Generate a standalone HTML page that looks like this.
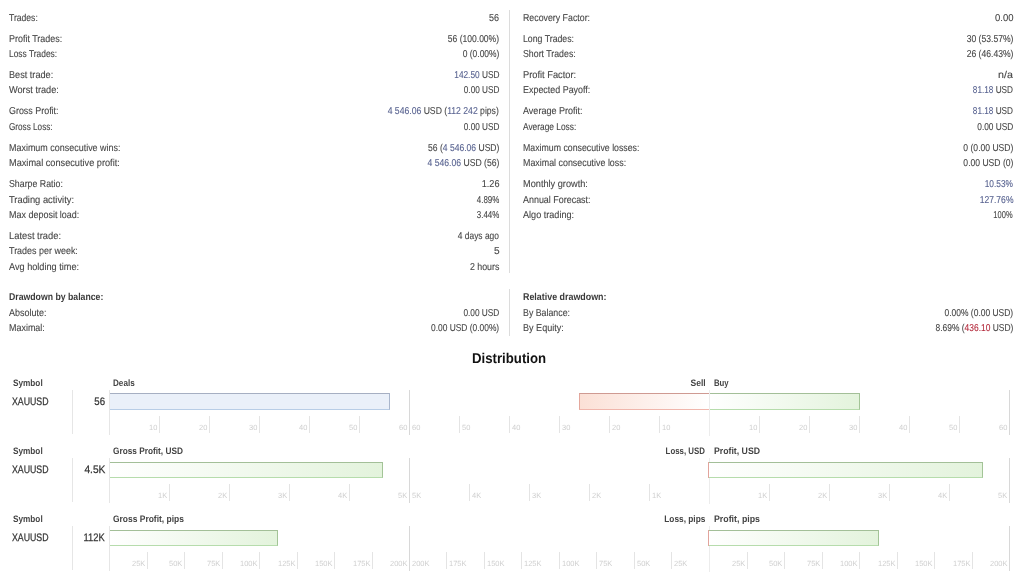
<!DOCTYPE html>
<html><head><meta charset="utf-8"><style>
*{margin:0;padding:0;box-sizing:border-box}
html,body{width:1024px;height:586px;overflow:hidden;background:#fff}
body{position:relative;font-family:"Liberation Sans",sans-serif;-webkit-font-smoothing:antialiased;text-rendering:geometricPrecision}
.a{position:absolute;white-space:nowrap;line-height:1;will-change:transform}
.a>span{display:inline-block}
.t{font-size:10.0px;color:#444;-webkit-text-stroke-width:0.1px}
.tb{font-size:10.0px;font-weight:bold;color:#3a3a3a}
.h2{font-size:14.2px;font-weight:bold;color:#111}
.th{font-size:9.4px;font-weight:bold;color:#444}
.tx{font-size:10.9px;color:#333;-webkit-text-stroke-width:0.25px}
.tk{font-size:7.5px;color:#cfcfcf}
.b{color:#56618f}
.r{color:#b3283a}
.vl{position:absolute;width:1px}
.bar{position:absolute;border-style:solid;border-width:1px 1px 1px 0}
.blue{border-color:#a6afc2 #a9b6cc #b8cde6 #a9b6cc;background:#eaf0f9}
.red{border-width:1px 0 1px 1px;border-color:#cf9a92 #cf9a92 #f0b6ac #e4a79c;background:linear-gradient(to right,#fbe0d6,#fff)}
.green{border-color:#a3bf98 #a3c497 #b6dcac #a3c497;background:linear-gradient(to right,#fff,#e3f3dc)}
</style></head>
<body>
<div class="vl" style="left:509px;top:10px;height:263px;background:#dcdcdc"></div>
<div class="vl" style="left:509px;top:289px;height:47px;background:#dcdcdc"></div>
<div class="vl" style="left:72px;top:390px;height:44px;background:#e6e6e6"></div>
<div class="vl" style="left:109px;top:390px;height:45px;background:#e6e6e6"></div>
<div class="vl" style="left:409px;top:390px;height:45px;background:#d8d8d8"></div>
<div class="vl" style="left:1009px;top:390px;height:45px;background:#d8d8d8"></div>
<div class="vl" style="left:709px;top:390px;height:46px;background:#ececec"></div>
<div class="vl" style="left:159px;top:416px;height:17px;background:#e4e4e4"></div>
<div class="a tk" style="right:866.50px;top:424.21px">10</div>
<div class="vl" style="left:759px;top:416px;height:17px;background:#e4e4e4"></div>
<div class="vl" style="left:659px;top:416px;height:17px;background:#e4e4e4"></div>
<div class="a tk" style="right:266.50px;top:424.21px">10</div>
<div class="a tk" style="left:661.50px;top:424.21px">10</div>
<div class="vl" style="left:209px;top:416px;height:17px;background:#e4e4e4"></div>
<div class="a tk" style="right:816.50px;top:424.21px">20</div>
<div class="vl" style="left:809px;top:416px;height:17px;background:#e4e4e4"></div>
<div class="vl" style="left:609px;top:416px;height:17px;background:#e4e4e4"></div>
<div class="a tk" style="right:216.50px;top:424.21px">20</div>
<div class="a tk" style="left:611.50px;top:424.21px">20</div>
<div class="vl" style="left:259px;top:416px;height:17px;background:#e4e4e4"></div>
<div class="a tk" style="right:766.50px;top:424.21px">30</div>
<div class="vl" style="left:859px;top:416px;height:17px;background:#e4e4e4"></div>
<div class="vl" style="left:559px;top:416px;height:17px;background:#e4e4e4"></div>
<div class="a tk" style="right:166.50px;top:424.21px">30</div>
<div class="a tk" style="left:561.50px;top:424.21px">30</div>
<div class="vl" style="left:309px;top:416px;height:17px;background:#e4e4e4"></div>
<div class="a tk" style="right:716.50px;top:424.21px">40</div>
<div class="vl" style="left:909px;top:416px;height:17px;background:#e4e4e4"></div>
<div class="vl" style="left:509px;top:416px;height:17px;background:#e4e4e4"></div>
<div class="a tk" style="right:116.50px;top:424.21px">40</div>
<div class="a tk" style="left:511.50px;top:424.21px">40</div>
<div class="vl" style="left:359px;top:416px;height:17px;background:#e4e4e4"></div>
<div class="a tk" style="right:666.50px;top:424.21px">50</div>
<div class="vl" style="left:959px;top:416px;height:17px;background:#e4e4e4"></div>
<div class="vl" style="left:459px;top:416px;height:17px;background:#e4e4e4"></div>
<div class="a tk" style="right:66.50px;top:424.21px">50</div>
<div class="a tk" style="left:461.50px;top:424.21px">50</div>
<div class="a tk" style="right:616.50px;top:424.21px">60</div>
<div class="a tk" style="right:16.50px;top:424.21px">60</div>
<div class="a tk" style="left:411.50px;top:424.21px">60</div>
<div class="bar blue" style="left:110px;top:393px;width:280px;height:17px"></div>
<div class="bar red" style="left:579px;top:393px;width:130px;height:17px"></div>
<div class="bar green" style="left:710px;top:393px;width:150px;height:17px"></div>
<div class="vl" style="left:72px;top:458px;height:44px;background:#e6e6e6"></div>
<div class="vl" style="left:109px;top:458px;height:45px;background:#e6e6e6"></div>
<div class="vl" style="left:409px;top:458px;height:45px;background:#d8d8d8"></div>
<div class="vl" style="left:1009px;top:458px;height:45px;background:#d8d8d8"></div>
<div class="vl" style="left:709px;top:458px;height:46px;background:#ececec"></div>
<div class="vl" style="left:169px;top:484px;height:17px;background:#e4e4e4"></div>
<div class="a tk" style="right:856.50px;top:492.21px">1K</div>
<div class="vl" style="left:769px;top:484px;height:17px;background:#e4e4e4"></div>
<div class="vl" style="left:649px;top:484px;height:17px;background:#e4e4e4"></div>
<div class="a tk" style="right:256.50px;top:492.21px">1K</div>
<div class="a tk" style="left:651.50px;top:492.21px">1K</div>
<div class="vl" style="left:229px;top:484px;height:17px;background:#e4e4e4"></div>
<div class="a tk" style="right:796.50px;top:492.21px">2K</div>
<div class="vl" style="left:829px;top:484px;height:17px;background:#e4e4e4"></div>
<div class="vl" style="left:589px;top:484px;height:17px;background:#e4e4e4"></div>
<div class="a tk" style="right:196.50px;top:492.21px">2K</div>
<div class="a tk" style="left:591.50px;top:492.21px">2K</div>
<div class="vl" style="left:289px;top:484px;height:17px;background:#e4e4e4"></div>
<div class="a tk" style="right:736.50px;top:492.21px">3K</div>
<div class="vl" style="left:889px;top:484px;height:17px;background:#e4e4e4"></div>
<div class="vl" style="left:529px;top:484px;height:17px;background:#e4e4e4"></div>
<div class="a tk" style="right:136.50px;top:492.21px">3K</div>
<div class="a tk" style="left:531.50px;top:492.21px">3K</div>
<div class="vl" style="left:349px;top:484px;height:17px;background:#e4e4e4"></div>
<div class="a tk" style="right:676.50px;top:492.21px">4K</div>
<div class="vl" style="left:949px;top:484px;height:17px;background:#e4e4e4"></div>
<div class="vl" style="left:469px;top:484px;height:17px;background:#e4e4e4"></div>
<div class="a tk" style="right:76.50px;top:492.21px">4K</div>
<div class="a tk" style="left:471.50px;top:492.21px">4K</div>
<div class="a tk" style="right:616.50px;top:492.21px">5K</div>
<div class="a tk" style="right:16.50px;top:492.21px">5K</div>
<div class="a tk" style="left:411.50px;top:492.21px">5K</div>
<div class="bar green" style="left:110px;top:462px;width:273px;height:16px"></div>
<div class="bar green" style="left:709px;top:462px;width:274px;height:16px"></div>
<div class="vl" style="left:708px;top:462px;height:16px;background:#e2a49c"></div>
<div class="vl" style="left:72px;top:526px;height:44px;background:#e6e6e6"></div>
<div class="vl" style="left:109px;top:526px;height:45px;background:#e6e6e6"></div>
<div class="vl" style="left:409px;top:526px;height:45px;background:#d8d8d8"></div>
<div class="vl" style="left:1009px;top:526px;height:45px;background:#d8d8d8"></div>
<div class="vl" style="left:709px;top:526px;height:46px;background:#ececec"></div>
<div class="vl" style="left:147px;top:552px;height:17px;background:#e4e4e4"></div>
<div class="a tk" style="right:878.50px;top:560.21px">25K</div>
<div class="vl" style="left:747px;top:552px;height:17px;background:#e4e4e4"></div>
<div class="vl" style="left:671px;top:552px;height:17px;background:#e4e4e4"></div>
<div class="a tk" style="right:278.50px;top:560.21px">25K</div>
<div class="a tk" style="left:673.50px;top:560.21px">25K</div>
<div class="vl" style="left:184px;top:552px;height:17px;background:#e4e4e4"></div>
<div class="a tk" style="right:841.50px;top:560.21px">50K</div>
<div class="vl" style="left:784px;top:552px;height:17px;background:#e4e4e4"></div>
<div class="vl" style="left:634px;top:552px;height:17px;background:#e4e4e4"></div>
<div class="a tk" style="right:241.50px;top:560.21px">50K</div>
<div class="a tk" style="left:636.50px;top:560.21px">50K</div>
<div class="vl" style="left:222px;top:552px;height:17px;background:#e4e4e4"></div>
<div class="a tk" style="right:803.50px;top:560.21px">75K</div>
<div class="vl" style="left:822px;top:552px;height:17px;background:#e4e4e4"></div>
<div class="vl" style="left:596px;top:552px;height:17px;background:#e4e4e4"></div>
<div class="a tk" style="right:203.50px;top:560.21px">75K</div>
<div class="a tk" style="left:598.50px;top:560.21px">75K</div>
<div class="vl" style="left:259px;top:552px;height:17px;background:#e4e4e4"></div>
<div class="a tk" style="right:766.50px;top:560.21px">100K</div>
<div class="vl" style="left:859px;top:552px;height:17px;background:#e4e4e4"></div>
<div class="vl" style="left:559px;top:552px;height:17px;background:#e4e4e4"></div>
<div class="a tk" style="right:166.50px;top:560.21px">100K</div>
<div class="a tk" style="left:561.50px;top:560.21px">100K</div>
<div class="vl" style="left:297px;top:552px;height:17px;background:#e4e4e4"></div>
<div class="a tk" style="right:728.50px;top:560.21px">125K</div>
<div class="vl" style="left:897px;top:552px;height:17px;background:#e4e4e4"></div>
<div class="vl" style="left:521px;top:552px;height:17px;background:#e4e4e4"></div>
<div class="a tk" style="right:128.50px;top:560.21px">125K</div>
<div class="a tk" style="left:523.50px;top:560.21px">125K</div>
<div class="vl" style="left:334px;top:552px;height:17px;background:#e4e4e4"></div>
<div class="a tk" style="right:691.50px;top:560.21px">150K</div>
<div class="vl" style="left:934px;top:552px;height:17px;background:#e4e4e4"></div>
<div class="vl" style="left:484px;top:552px;height:17px;background:#e4e4e4"></div>
<div class="a tk" style="right:91.50px;top:560.21px">150K</div>
<div class="a tk" style="left:486.50px;top:560.21px">150K</div>
<div class="vl" style="left:372px;top:552px;height:17px;background:#e4e4e4"></div>
<div class="a tk" style="right:653.50px;top:560.21px">175K</div>
<div class="vl" style="left:972px;top:552px;height:17px;background:#e4e4e4"></div>
<div class="vl" style="left:446px;top:552px;height:17px;background:#e4e4e4"></div>
<div class="a tk" style="right:53.50px;top:560.21px">175K</div>
<div class="a tk" style="left:448.50px;top:560.21px">175K</div>
<div class="a tk" style="right:616.50px;top:560.21px">200K</div>
<div class="a tk" style="right:16.50px;top:560.21px">200K</div>
<div class="a tk" style="left:411.50px;top:560.21px">200K</div>
<div class="bar green" style="left:110px;top:530px;width:168px;height:16px"></div>
<div class="bar green" style="left:709px;top:530px;width:170px;height:16px"></div>
<div class="vl" style="left:708px;top:530px;height:16px;background:#e2a49c"></div>
<div class="a t" style="left:9.00px;top:14.00px"><span style="transform:scaleX(0.8589);transform-origin:left">Trades:</span></div>
<div class="a t" style="right:525.00px;top:14.00px"><span style="transform:scaleX(0.8996);transform-origin:right">56</span></div>
<div class="a t" style="left:9.00px;top:35.00px"><span style="transform:scaleX(0.8951);transform-origin:left">Profit Trades:</span></div>
<div class="a t" style="right:525.00px;top:35.00px"><span style="transform:scaleX(0.8528);transform-origin:right">56 (100.00%)</span></div>
<div class="a t" style="left:9.00px;top:50.00px"><span style="transform:scaleX(0.8398);transform-origin:left">Loss Trades:</span></div>
<div class="a t" style="right:525.00px;top:50.00px"><span style="transform:scaleX(0.8445);transform-origin:right">0 (0.00%)</span></div>
<div class="a t" style="left:9.00px;top:71.00px"><span style="transform:scaleX(0.9140);transform-origin:left">Best trade:</span></div>
<div class="a t" style="right:525.00px;top:71.00px"><span style="transform:scaleX(0.8301);transform-origin:right"><span class="b">142.50</span> USD</span></div>
<div class="a t" style="left:9.00px;top:86.00px"><span style="transform:scaleX(0.9190);transform-origin:left">Worst trade:</span></div>
<div class="a t" style="right:525.00px;top:86.00px"><span style="transform:scaleX(0.8202);transform-origin:right">0.00 USD</span></div>
<div class="a t" style="left:9.00px;top:107.00px"><span style="transform:scaleX(0.8916);transform-origin:left">Gross Profit:</span></div>
<div class="a t" style="right:525.00px;top:107.00px"><span style="transform:scaleX(0.8631);transform-origin:right"><span class="b">4 546.06</span> USD (<span class="b">112 242</span> pips)</span></div>
<div class="a t" style="left:9.00px;top:123.00px"><span style="transform:scaleX(0.8173);transform-origin:left">Gross Loss:</span></div>
<div class="a t" style="right:525.00px;top:123.00px"><span style="transform:scaleX(0.8202);transform-origin:right">0.00 USD</span></div>
<div class="a t" style="left:9.00px;top:144.00px"><span style="transform:scaleX(0.8956);transform-origin:left">Maximum consecutive wins:</span></div>
<div class="a t" style="right:525.00px;top:144.00px"><span style="transform:scaleX(0.8560);transform-origin:right">56 (<span class="b">4 546.06</span> USD)</span></div>
<div class="a t" style="left:9.00px;top:159.00px"><span style="transform:scaleX(0.9188);transform-origin:left">Maximal consecutive profit:</span></div>
<div class="a t" style="right:525.00px;top:159.00px"><span style="transform:scaleX(0.8618);transform-origin:right"><span class="b">4 546.06</span> USD (56)</span></div>
<div class="a t" style="left:9.00px;top:180.00px"><span style="transform:scaleX(0.8803);transform-origin:left">Sharpe Ratio:</span></div>
<div class="a t" style="right:525.00px;top:180.00px"><span style="transform:scaleX(0.9102);transform-origin:right">1.26</span></div>
<div class="a t" style="left:9.00px;top:196.00px"><span style="transform:scaleX(0.9337);transform-origin:left">Trading activity:</span></div>
<div class="a t" style="right:525.00px;top:196.00px"><span style="transform:scaleX(0.7960);transform-origin:right">4.89%</span></div>
<div class="a t" style="left:9.00px;top:211.00px"><span style="transform:scaleX(0.8972);transform-origin:left">Max deposit load:</span></div>
<div class="a t" style="right:525.00px;top:211.00px"><span style="transform:scaleX(0.7960);transform-origin:right">3.44%</span></div>
<div class="a t" style="left:9.00px;top:232.00px"><span style="transform:scaleX(0.9353);transform-origin:left">Latest trade:</span></div>
<div class="a t" style="right:525.00px;top:232.00px"><span style="transform:scaleX(0.8406);transform-origin:right">4 days ago</span></div>
<div class="a t" style="left:9.00px;top:247.00px"><span style="transform:scaleX(0.8954);transform-origin:left">Trades per week:</span></div>
<div class="a t" style="right:524.00px;top:247.00px"><span style="transform:scaleX(1.0169);transform-origin:right">5</span></div>
<div class="a t" style="left:9.00px;top:263.00px"><span style="transform:scaleX(0.9150);transform-origin:left">Avg holding time:</span></div>
<div class="a t" style="right:525.00px;top:263.00px"><span style="transform:scaleX(0.8834);transform-origin:right">2 hours</span></div>
<div class="a t" style="left:522.50px;top:14.00px"><span style="transform:scaleX(0.8802);transform-origin:left">Recovery Factor:</span></div>
<div class="a t" style="right:11.00px;top:14.00px"><span style="transform:scaleX(0.9474);transform-origin:right">0.00</span></div>
<div class="a t" style="left:522.50px;top:35.00px"><span style="transform:scaleX(0.8738);transform-origin:left">Long Trades:</span></div>
<div class="a t" style="right:11.00px;top:35.00px"><span style="transform:scaleX(0.8599);transform-origin:right">30 (53.57%)</span></div>
<div class="a t" style="left:522.50px;top:50.00px"><span style="transform:scaleX(0.8782);transform-origin:left">Short Trades:</span></div>
<div class="a t" style="right:11.00px;top:50.00px"><span style="transform:scaleX(0.8599);transform-origin:right">26 (46.43%)</span></div>
<div class="a t" style="left:522.50px;top:71.00px"><span style="transform:scaleX(0.9280);transform-origin:left">Profit Factor:</span></div>
<div class="a t" style="right:11.00px;top:71.00px"><span style="transform:scaleX(1.0709);transform-origin:right">n/a</span></div>
<div class="a t" style="left:522.50px;top:86.00px"><span style="transform:scaleX(0.8926);transform-origin:left">Expected Payoff:</span></div>
<div class="a t" style="right:11.00px;top:86.00px"><span style="transform:scaleX(0.8189);transform-origin:right"><span class="b">81.18</span> USD</span></div>
<div class="a t" style="left:522.50px;top:107.00px"><span style="transform:scaleX(0.9019);transform-origin:left">Average Profit:</span></div>
<div class="a t" style="right:11.00px;top:107.00px"><span style="transform:scaleX(0.8189);transform-origin:right"><span class="b">81.18</span> USD</span></div>
<div class="a t" style="left:522.50px;top:123.00px"><span style="transform:scaleX(0.8352);transform-origin:left">Average Loss:</span></div>
<div class="a t" style="right:11.00px;top:123.00px"><span style="transform:scaleX(0.8312);transform-origin:right">0.00 USD</span></div>
<div class="a t" style="left:522.50px;top:144.00px"><span style="transform:scaleX(0.8764);transform-origin:left">Maximum consecutive losses:</span></div>
<div class="a t" style="right:11.00px;top:144.00px"><span style="transform:scaleX(0.8567);transform-origin:right">0 (0.00 USD)</span></div>
<div class="a t" style="left:522.50px;top:159.00px"><span style="transform:scaleX(0.8881);transform-origin:left">Maximal consecutive loss:</span></div>
<div class="a t" style="right:11.00px;top:159.00px"><span style="transform:scaleX(0.8567);transform-origin:right">0.00 USD (0)</span></div>
<div class="a t" style="left:522.50px;top:180.00px"><span style="transform:scaleX(0.9195);transform-origin:left">Monthly growth:</span></div>
<div class="a t" style="right:11.00px;top:180.00px"><span style="transform:scaleX(0.8317);transform-origin:right"><span class="b">10.53%</span></span></div>
<div class="a t" style="left:522.50px;top:196.00px"><span style="transform:scaleX(0.8935);transform-origin:left">Annual Forecast:</span></div>
<div class="a t" style="right:11.00px;top:196.00px"><span style="transform:scaleX(0.8548);transform-origin:right"><span class="b">127.76%</span></span></div>
<div class="a t" style="left:522.50px;top:211.00px"><span style="transform:scaleX(0.9089);transform-origin:left">Algo trading:</span></div>
<div class="a t" style="right:11.00px;top:211.00px"><span style="transform:scaleX(0.7513);transform-origin:right">100%</span></div>
<div class="a tb" style="left:9.00px;top:293.00px"><span style="transform:scaleX(0.8703);transform-origin:left">Drawdown by balance:</span></div>
<div class="a t" style="left:9.00px;top:309.00px"><span style="transform:scaleX(0.9001);transform-origin:left">Absolute:</span></div>
<div class="a t" style="right:525.00px;top:309.00px"><span style="transform:scaleX(0.8299);transform-origin:right">0.00 USD</span></div>
<div class="a t" style="left:9.00px;top:324.00px"><span style="transform:scaleX(0.8941);transform-origin:left">Maximal:</span></div>
<div class="a t" style="right:525.00px;top:324.00px"><span style="transform:scaleX(0.8392);transform-origin:right">0.00 USD (0.00%)</span></div>
<div class="a tb" style="left:522.50px;top:293.00px"><span style="transform:scaleX(0.8892);transform-origin:left">Relative drawdown:</span></div>
<div class="a t" style="left:522.50px;top:309.00px"><span style="transform:scaleX(0.8813);transform-origin:left">By Balance:</span></div>
<div class="a t" style="right:11.00px;top:309.00px"><span style="transform:scaleX(0.8453);transform-origin:right">0.00% (0.00 USD)</span></div>
<div class="a t" style="left:522.50px;top:324.00px"><span style="transform:scaleX(0.9065);transform-origin:left">By Equity:</span></div>
<div class="a t" style="right:11.00px;top:324.00px"><span style="transform:scaleX(0.8419);transform-origin:right">8.69% (<span class="r">436.10</span> USD)</span></div>
<div class="a h2" style="left:472.00px;top:352.05px"><span style="transform:scaleX(0.9310);transform-origin:left">Distribution</span></div>
<div class="a th" style="left:12.50px;top:378.39px"><span style="transform:scaleX(0.8763);transform-origin:left">Symbol</span></div>
<div class="a th" style="left:113.25px;top:378.39px"><span style="transform:scaleX(0.8659);transform-origin:left">Deals</span></div>
<div class="a th" style="right:318.00px;top:378.39px"><span style="transform:scaleX(0.9098);transform-origin:right">Sell</span></div>
<div class="a th" style="left:714.00px;top:378.39px"><span style="transform:scaleX(0.8273);transform-origin:left">Buy</span></div>
<div class="a tx" style="left:12.30px;top:397.44px"><span style="transform:scaleX(0.8055);transform-origin:left">XAUUSD</span></div>
<div class="a tx" style="right:919.00px;top:397.44px"><span style="transform:scaleX(0.8868);transform-origin:right">56</span></div>
<div class="a th" style="left:12.50px;top:446.39px"><span style="transform:scaleX(0.8763);transform-origin:left">Symbol</span></div>
<div class="a th" style="left:113.25px;top:446.39px"><span style="transform:scaleX(0.8824);transform-origin:left">Gross Profit, USD</span></div>
<div class="a th" style="right:319.00px;top:446.39px"><span style="transform:scaleX(0.8376);transform-origin:right">Loss, USD</span></div>
<div class="a th" style="left:713.50px;top:446.39px"><span style="transform:scaleX(0.9298);transform-origin:left">Profit, USD</span></div>
<div class="a tx" style="left:12.30px;top:465.44px"><span style="transform:scaleX(0.8055);transform-origin:left">XAUUSD</span></div>
<div class="a tx" style="right:919.00px;top:465.44px"><span style="transform:scaleX(0.9357);transform-origin:right">4.5K</span></div>
<div class="a th" style="left:12.50px;top:514.39px"><span style="transform:scaleX(0.8763);transform-origin:left">Symbol</span></div>
<div class="a th" style="left:113.25px;top:514.39px"><span style="transform:scaleX(0.9017);transform-origin:left">Gross Profit, pips</span></div>
<div class="a th" style="right:319.00px;top:514.39px"><span style="transform:scaleX(0.8859);transform-origin:right">Loss, pips</span></div>
<div class="a th" style="left:713.50px;top:514.39px"><span style="transform:scaleX(0.9392);transform-origin:left">Profit, pips</span></div>
<div class="a tx" style="left:12.30px;top:533.44px"><span style="transform:scaleX(0.8055);transform-origin:left">XAUUSD</span></div>
<div class="a tx" style="right:919.00px;top:533.44px"><span style="transform:scaleX(0.8599);transform-origin:right">112K</span></div>
</body></html>
